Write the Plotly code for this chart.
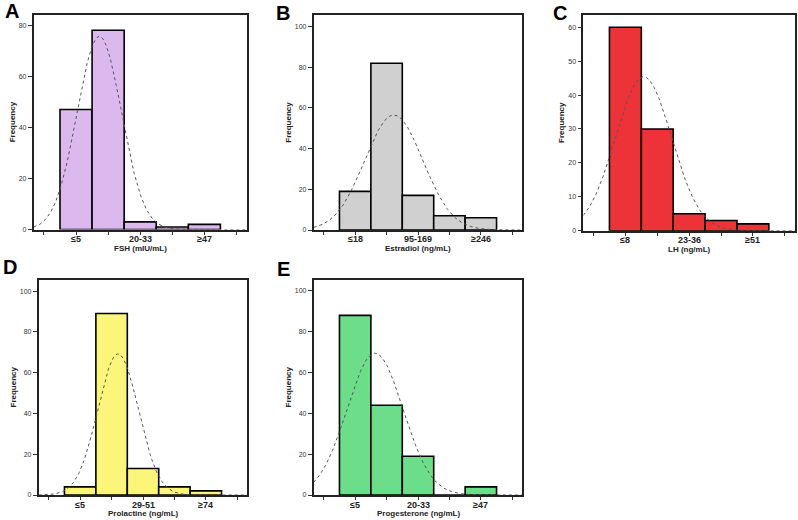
import numpy as np
import plotly.graph_objects as go

W, H = 798, 520

# bin counts per panel (5 bins each)
fsh_counts = [47, 78, 3, 1, 2]
estradiol_counts = [19, 82, 17, 7, 6]
lh_counts = [60, 30, 5, 3, 2]
prolactine_counts = [4, 89, 13, 4, 2]
progesterone_counts = [88, 44, 19, 0, 4]

# labelled ticks (bins 1, 3, 5)
fsh_ticks = ["≤5", "20-33", "≥47"]
estradiol_ticks = ["≤18", "95-169", "≥246"]
lh_ticks = ["≤8", "23-36", "≥51"]
prolactine_ticks = ["≤5", "29-51", "≥74"]
progesterone_ticks = ["≤5", "20-33", "≥47"]

titles = ["FSH (mIU/mL)", "Estradiol (ng/mL)", "LH (ng/mL)",
          "Prolactine (ng/mL)", "Progesterone (ng/mL)"]
letters = ["A", "B", "C", "D", "E"]
colors = ["#dbb8ee", "#d0d0d0", "#ee3338", "#fbf67a", "#6cdd88"]
y_max = [84.1, 105.7, 63.7, 105.7, 105.6]
y_dtick = [20, 20, 10, 20, 20]

# plot boxes in pixels: x0, x1, ytop, ybottom
boxes = [
    (33.7, 246.7, 14.7, 229.5),
    (313.7, 522.3, 15.0, 230.0),
    (583.3, 795.0, 14.7, 230.7),
    (38.7, 247.3, 279.5, 495.0),
    (313.7, 522.3, 279.5, 495.0),
]
letter_pos = [(11.7, 11.0), (283.3, 12.5), (560.0, 13.3), (10.0, 267.0), (283.3, 269.2)]

panels = [
    (fsh_counts, fsh_ticks),
    (estradiol_counts, estradiol_ticks),
    (lh_counts, lh_ticks),
    (prolactine_counts, prolactine_ticks),
    (progesterone_counts, progesterone_ticks),
]

FONT = "Liberation Sans, Arial, sans-serif"
XR = [-1.32, 5.32]

fig = go.Figure()
layout = dict(
    width=W, height=H,
    margin=dict(l=0, r=0, t=0, b=0, autoexpand=False),
    paper_bgcolor="white", plot_bgcolor="white",
    showlegend=False,
    annotations=[],
)

for i, (counts, ticks) in enumerate(panels):
    n = i + 1
    xa = "x" if n == 1 else f"x{n}"
    ya = "y" if n == 1 else f"y{n}"
    pos = np.arange(len(counts))

    fig.add_trace(go.Bar(
        x=pos, y=counts, width=1, xaxis=xa, yaxis=ya,
        marker=dict(color=colors[i], line=dict(color="black", width=1.6)),
        hoverinfo="skip",
    ))

    # fitted normal curve (SPSS style) from the binned counts
    c = np.array(counts, dtype=float)
    total = c.sum()
    mean = (pos * c).sum() / total
    sd = np.sqrt(((pos - mean) ** 2 * c).sum() / (total - 1))
    xs = np.linspace(XR[0], XR[1], 300)
    ys = total / (sd * np.sqrt(2 * np.pi)) * np.exp(-0.5 * ((xs - mean) / sd) ** 2)
    fig.add_trace(go.Scatter(
        x=xs, y=ys, mode="lines", xaxis=xa, yaxis=ya,
        line=dict(color="#555555", width=1, dash="dot"),
        hoverinfo="skip",
    ))

    x0, x1, yt, yb = boxes[i]
    layout["xaxis" if n == 1 else f"xaxis{n}"] = dict(
        domain=[x0 / W, x1 / W], anchor=ya, range=XR, automargin=False,
        tickvals=[-1, 0, 1, 2, 3, 4, 5], showticklabels=False,
        ticks="outside", ticklen=3.5, tickcolor="#333", tickwidth=1,
        showline=True, linecolor="#222", linewidth=1.6, mirror=True,
        showgrid=False, zeroline=False,
    )
    layout["yaxis" if n == 1 else f"yaxis{n}"] = dict(
        domain=[1 - yb / H, 1 - yt / H], anchor=xa, range=[0, y_max[i]],
        automargin=False, dtick=y_dtick[i],
        ticks="outside", ticklen=4, tickcolor="#333", tickwidth=1,
        showline=True, linecolor="#222", linewidth=1.6, mirror=True,
        showgrid=False, zeroline=False,
        tickfont=dict(family=FONT, size=7, color="#333"),
        title=dict(text="Frequency", standoff=2,
                   font=dict(family=FONT, size=8, color="#222", weight="bold")),
    )

    # category labels on every other bin, tight under the axis
    for k, lab in zip([0, 2, 4], ticks):
        layout["annotations"].append(dict(
            text=lab, x=k, y=1 - (yb + 9.5) / H, xref=xa, yref="paper",
            xanchor="center", yanchor="middle", showarrow=False,
            font=dict(family=FONT, size=9, color="#222", weight="bold"),
        ))

    layout["annotations"].append(dict(
        text=titles[i], x=(x0 + x1) / 2 / W, y=1 - (yb + 18.5) / H,
        xref="paper", yref="paper", xanchor="center", yanchor="middle",
        showarrow=False,
        font=dict(family=FONT, size=8, color="#222", weight="bold"),
    ))

    lx, ly = letter_pos[i]
    layout["annotations"].append(dict(
        text=letters[i], x=lx / W, y=1 - ly / H, xref="paper", yref="paper",
        xanchor="center", yanchor="middle", showarrow=False,
        font=dict(family=FONT, size=20, color="black", weight="bold"),
    ))

fig.update_layout(**layout)
# page body has a default 8px margin; drop it so the figure fills the window
fig.write_html("out.html", config={"displayModeBar": False},
               post_script="document.body.style.margin='0';")
